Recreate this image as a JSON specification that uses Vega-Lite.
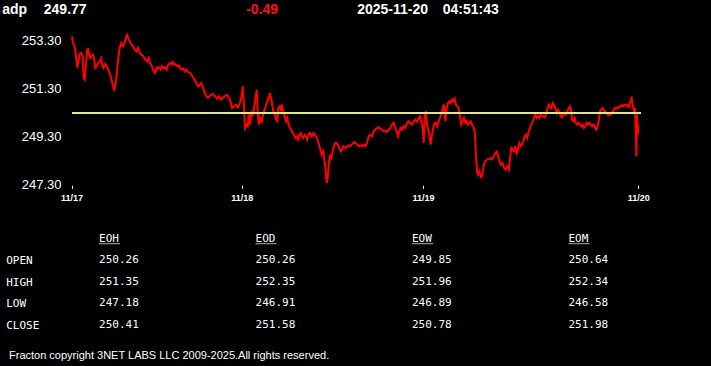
{
  "$schema": "https://vega.github.io/schema/vega-lite/v6.json",
  "background": "black",
  "padding": 0,
  "spacing": 16,
  "bounds": "flush",
  "config": {"view": {"stroke": null}, "axis": {"grid": false}},
  "vconcat": [
    {
      "width": 711, "height": 19,
      "layer": [
        {"data": {"values": [{"t": "adp"}]}, "mark": {"type": "text", "align": "left", "baseline": "middle", "dx": -353.3, "font": "Liberation Sans", "fontWeight": "bold", "fontSize": 14, "color": "#ffffff"}, "encoding": {"text": {"field": "t"}}},
        {"data": {"values": [{"t": "249.77"}]}, "mark": {"type": "text", "align": "left", "baseline": "middle", "dx": -311.7, "font": "Liberation Sans", "fontWeight": "bold", "fontSize": 14, "color": "#ffffff"}, "encoding": {"text": {"field": "t"}}},
        {"data": {"values": [{"t": "-0.49"}]}, "mark": {"type": "text", "align": "left", "baseline": "middle", "dx": -109.3, "font": "Liberation Sans", "fontWeight": "bold", "fontSize": 14, "color": "#ff1010"}, "encoding": {"text": {"field": "t"}}},
        {"data": {"values": [{"t": "2025-11-20"}]}, "mark": {"type": "text", "align": "left", "baseline": "middle", "dx": 1.7, "font": "Liberation Sans", "fontWeight": "bold", "fontSize": 14, "color": "#ffffff"}, "encoding": {"text": {"field": "t"}}},
        {"data": {"values": [{"t": "04:51:43"}]}, "mark": {"type": "text", "align": "left", "baseline": "middle", "dx": 87.3, "font": "Liberation Sans", "fontWeight": "bold", "fontSize": 14, "color": "#ffffff"}, "encoding": {"text": {"field": "t"}}}
      ]
    },
    {
      "width": 711, "height": 149.3,
      "data": {"values": [
        {"i":0.5,"p":253.45},{"i":1.5,"p":253.18},{"i":3.2,"p":253.04},{"i":4.8,"p":252.55},{"i":5.8,"p":252.14},{"i":7.2,"p":252.48},{"i":8.2,"p":252.72},{"i":9.8,"p":252.76},{"i":11.2,"p":252.62},{"i":12.2,"p":251.72},{"i":13.2,"p":251.65},{"i":14.2,"p":252.14},{"i":15.5,"p":252.83},{"i":16.5,"p":252.97},{"i":17.5,"p":252.69},{"i":18.8,"p":252.55},{"i":19.8,"p":252.62},{"i":21.5,"p":252.69},{"i":22.5,"p":252.55},{"i":23.8,"p":252.14},{"i":25.2,"p":252.21},{"i":26.5,"p":252.34},{"i":28.2,"p":252.41},{"i":29.8,"p":252.55},{"i":30.8,"p":252.27},{"i":31.8,"p":252.14},{"i":33.8,"p":252.30},{"i":35.8,"p":252.16},{"i":37.2,"p":252.03},{"i":39.2,"p":251.79},{"i":40.8,"p":251.51},{"i":42.5,"p":251.24},{"i":43.8,"p":251.37},{"i":45.2,"p":251.86},{"i":46.5,"p":252.41},{"i":48.2,"p":252.97},{"i":49.8,"p":253.18},{"i":51.5,"p":253.04},{"i":53.2,"p":253.18},{"i":54.8,"p":253.45},{"i":55.8,"p":253.52},{"i":57.2,"p":253.31},{"i":58.5,"p":253.24},{"i":59.8,"p":253.11},{"i":61.5,"p":253.04},{"i":63.2,"p":252.90},{"i":64.8,"p":252.83},{"i":66.5,"p":252.97},{"i":68.2,"p":252.76},{"i":69.8,"p":252.69},{"i":71.8,"p":252.62},{"i":73.8,"p":252.48},{"i":75.8,"p":252.41},{"i":77.2,"p":252.55},{"i":78.5,"p":252.34},{"i":79.8,"p":252.27},{"i":81.5,"p":252.07},{"i":83.2,"p":251.93},{"i":84.2,"p":252.00},{"i":85.2,"p":252.16},{"i":86.5,"p":252.11},{"i":87.8,"p":252.16},{"i":89.2,"p":252.07},{"i":90.5,"p":252.21},{"i":92.5,"p":252.11},{"i":93.8,"p":252.16},{"i":95.2,"p":252.07},{"i":96.5,"p":252.25},{"i":98.2,"p":252.34},{"i":99.8,"p":252.30},{"i":101.2,"p":252.39},{"i":102.5,"p":252.27},{"i":103.8,"p":252.30},{"i":105.5,"p":252.21},{"i":107.2,"p":252.25},{"i":108.5,"p":252.14},{"i":109.8,"p":252.07},{"i":111.8,"p":252.11},{"i":113.2,"p":252.00},{"i":114.8,"p":252.07},{"i":116.5,"p":251.97},{"i":118.5,"p":251.93},{"i":119.8,"p":251.86},{"i":121.5,"p":251.75},{"i":123.2,"p":251.65},{"i":124.8,"p":251.51},{"i":126.5,"p":251.37},{"i":128.2,"p":251.44},{"i":129.8,"p":251.51},{"i":131.5,"p":251.33},{"i":133.2,"p":251.10},{"i":134.8,"p":250.96},{"i":136.5,"p":250.89},{"i":138.2,"p":250.96},{"i":139.8,"p":251.03},{"i":141.5,"p":251.05},
        {"i":143.5,"p":250.96},{"i":145.8,"p":250.86},{"i":147.8,"p":250.96},{"i":149.5,"p":250.82},{"i":151.2,"p":250.89},{"i":153.5,"p":250.96},{"i":155.2,"p":251.03},{"i":156.8,"p":250.96},{"i":158.5,"p":250.82},{"i":160.5,"p":250.47},{"i":162.5,"p":250.54},{"i":164.5,"p":250.61},{"i":166.5,"p":250.50},{"i":168.5,"p":250.68},{"i":170.2,"p":251.03},{"i":171.2,"p":251.37},{"i":172.5,"p":250.61},{"i":173.5,"p":249.64},{"i":175.2,"p":249.78},{"i":176.2,"p":249.71},{"i":177.2,"p":250.20},{"i":178.5,"p":249.78},{"i":179.8,"p":250.33},{"i":181.2,"p":250.13},{"i":182.5,"p":250.47},{"i":183.8,"p":250.82},{"i":185.2,"p":251.24},{"i":186.2,"p":250.33},{"i":187.2,"p":249.78},{"i":188.5,"p":250.06},{"i":190.2,"p":249.85},{"i":191.2,"p":250.13},{"i":192.5,"p":250.33},{"i":193.8,"p":250.47},{"i":195.2,"p":250.68},{"i":197.2,"p":250.89},{"i":198.5,"p":251.10},{"i":200.2,"p":250.75},{"i":201.8,"p":250.33},{"i":203.2,"p":250.27},{"i":204.5,"p":249.99},{"i":205.8,"p":249.92},{"i":206.8,"p":250.47},{"i":208.5,"p":250.54},{"i":209.5,"p":250.33},{"i":210.5,"p":250.61},{"i":211.8,"p":250.33},{"i":213.2,"p":250.13},{"i":214.5,"p":249.92},{"i":215.8,"p":250.06},{"i":217.2,"p":249.78},{"i":218.5,"p":249.64},{"i":219.8,"p":249.57},{"i":221.2,"p":249.43},{"i":222.5,"p":249.36},{"i":223.8,"p":249.23},{"i":225.2,"p":249.29},{"i":226.5,"p":249.16},{"i":227.8,"p":249.36},{"i":229.2,"p":249.43},{"i":230.5,"p":249.29},{"i":231.8,"p":249.23},{"i":233.2,"p":249.36},{"i":234.5,"p":249.29},{"i":235.8,"p":249.16},{"i":237.2,"p":249.39},{"i":238.5,"p":249.43},{"i":240.2,"p":249.29},{"i":241.8,"p":249.43},{"i":243.5,"p":249.36},{"i":245.2,"p":249.23},{"i":246.5,"p":249.09},{"i":248.5,"p":248.81},{"i":250.2,"p":248.53},{"i":251.8,"p":248.67},{"i":253.5,"p":248.12},{"i":254.5,"p":247.70},{"i":255.2,"p":247.35},{"i":256.2,"p":247.56},{"i":257.2,"p":248.12},{"i":258.5,"p":248.53},{"i":259.8,"p":248.39},{"i":261.2,"p":248.67},{"i":262.5,"p":248.88},{"i":263.8,"p":249.02},{"i":265.2,"p":249.02},{"i":266.5,"p":248.95},{"i":267.8,"p":248.81},{"i":269.2,"p":248.67},{"i":270.5,"p":248.74},{"i":271.8,"p":248.88},{"i":273.5,"p":248.81},{"i":275.2,"p":248.84},{"i":276.8,"p":248.92},{"i":278.5,"p":248.88},{"i":280.2,"p":248.95},{"i":281.8,"p":249.02},{"i":283.5,"p":249.05},
        {"i":285.5,"p":248.95},{"i":287.2,"p":248.88},{"i":288.8,"p":248.92},{"i":290.5,"p":248.88},{"i":292.2,"p":248.95},{"i":293.8,"p":248.88},{"i":295.5,"p":249.02},{"i":297.2,"p":249.29},{"i":298.8,"p":249.36},{"i":300.5,"p":249.29},{"i":302.2,"p":249.50},{"i":303.8,"p":249.57},{"i":305.5,"p":249.64},{"i":307.2,"p":249.67},{"i":308.8,"p":249.60},{"i":310.5,"p":249.57},{"i":312.2,"p":249.50},{"i":313.8,"p":249.53},{"i":315.5,"p":249.48},{"i":317.2,"p":249.57},{"i":318.8,"p":249.64},{"i":320.5,"p":249.78},{"i":322.2,"p":249.85},{"i":323.8,"p":249.64},{"i":325.5,"p":249.43},{"i":326.5,"p":249.29},{"i":327.8,"p":249.50},{"i":329.2,"p":249.64},{"i":330.5,"p":249.57},{"i":332.2,"p":249.71},{"i":333.8,"p":249.64},{"i":335.5,"p":249.85},{"i":337.2,"p":249.92},{"i":338.8,"p":249.85},{"i":340.5,"p":249.78},{"i":342.2,"p":249.92},{"i":343.8,"p":249.99},{"i":345.5,"p":249.89},{"i":347.2,"p":250.06},{"i":348.8,"p":250.13},{"i":349.8,"p":249.92},{"i":351.2,"p":249.64},{"i":352.2,"p":249.02},{"i":353.2,"p":250.20},{"i":354.5,"p":250.33},{"i":355.5,"p":249.78},{"i":356.5,"p":249.64},{"i":357.8,"p":249.36},{"i":359.2,"p":248.95},{"i":360.5,"p":249.36},{"i":361.8,"p":249.64},{"i":363.2,"p":249.85},{"i":364.5,"p":249.85},{"i":365.8,"p":249.71},{"i":367.2,"p":249.92},{"i":368.5,"p":250.06},{"i":369.8,"p":250.20},{"i":371.2,"p":250.47},{"i":372.5,"p":250.61},{"i":373.8,"p":249.92},{"i":375.2,"p":250.47},{"i":376.5,"p":250.68},{"i":377.8,"p":250.75},{"i":379.2,"p":250.68},{"i":380.5,"p":250.82},{"i":381.8,"p":250.75},{"i":383.2,"p":250.86},{"i":384.5,"p":250.61},{"i":385.8,"p":250.54},{"i":387.2,"p":250.47},{"i":388.5,"p":250.13},{"i":389.8,"p":249.78},{"i":391.2,"p":249.92},{"i":392.5,"p":250.06},{"i":393.8,"p":249.85},{"i":395.2,"p":249.92},{"i":396.5,"p":249.78},{"i":397.8,"p":249.85},{"i":399.2,"p":249.92},{"i":400.5,"p":249.78},{"i":401.8,"p":249.71},{"i":403.2,"p":249.50},{"i":404.5,"p":248.53},{"i":405.5,"p":247.84},{"i":406.5,"p":247.70},{"i":407.8,"p":247.84},{"i":408.8,"p":247.70},{"i":409.8,"p":247.56},{"i":411.2,"p":247.84},{"i":412.5,"p":248.12},{"i":413.8,"p":248.26},{"i":415.5,"p":248.33},{"i":417.2,"p":248.35},{"i":418.8,"p":248.39},{"i":420.5,"p":248.33},{"i":422.2,"p":248.46},{"i":423.8,"p":248.60},{"i":425.5,"p":248.67},
        {"i":427.5,"p":248.32},{"i":429.2,"p":248.12},{"i":430.8,"p":248.19},{"i":432.5,"p":247.98},{"i":434.2,"p":247.91},{"i":435.8,"p":248.05},{"i":437.5,"p":247.91},{"i":438.5,"p":248.39},{"i":439.8,"p":248.81},{"i":441.2,"p":248.74},{"i":442.5,"p":248.67},{"i":443.8,"p":248.88},{"i":445.2,"p":248.60},{"i":446.5,"p":248.74},{"i":447.8,"p":249.02},{"i":449.2,"p":248.88},{"i":450.5,"p":248.95},{"i":451.8,"p":249.09},{"i":453.2,"p":249.29},{"i":454.5,"p":249.36},{"i":455.8,"p":249.23},{"i":457.2,"p":249.50},{"i":458.5,"p":249.64},{"i":459.8,"p":249.78},{"i":461.2,"p":249.92},{"i":462.5,"p":250.06},{"i":463.8,"p":250.20},{"i":465.2,"p":250.06},{"i":466.5,"p":250.13},{"i":467.8,"p":250.06},{"i":469.2,"p":250.20},{"i":470.5,"p":250.13},{"i":471.8,"p":250.13},{"i":473.2,"p":250.08},{"i":474.5,"p":250.20},{"i":475.8,"p":250.40},{"i":477.2,"p":250.61},{"i":478.5,"p":250.54},{"i":479.8,"p":250.47},{"i":481.2,"p":250.68},{"i":482.5,"p":250.61},{"i":483.8,"p":250.47},{"i":485.2,"p":250.27},{"i":486.5,"p":250.40},{"i":487.8,"p":250.33},{"i":489.2,"p":250.13},{"i":490.5,"p":250.08},{"i":491.8,"p":250.20},{"i":493.2,"p":250.27},{"i":494.5,"p":250.20},{"i":495.8,"p":250.33},{"i":497.2,"p":250.47},{"i":498.5,"p":250.54},{"i":499.8,"p":250.33},{"i":500.5,"p":249.99},{"i":501.8,"p":249.92},{"i":503.2,"p":250.06},{"i":504.5,"p":249.85},{"i":505.8,"p":249.78},{"i":507.2,"p":249.85},{"i":508.5,"p":249.78},{"i":509.8,"p":249.71},{"i":511.2,"p":249.78},{"i":512.5,"p":249.64},{"i":513.8,"p":249.71},{"i":515.2,"p":249.85},{"i":516.5,"p":249.78},{"i":517.8,"p":249.85},{"i":519.2,"p":249.78},{"i":520.5,"p":249.71},{"i":521.8,"p":249.78},{"i":523.2,"p":249.71},{"i":524.5,"p":249.57},{"i":525.8,"p":249.64},{"i":527.2,"p":249.92},{"i":528.5,"p":250.33},{"i":529.8,"p":250.40},{"i":531.2,"p":250.47},{"i":532.5,"p":250.36},{"i":533.8,"p":250.33},{"i":535.2,"p":250.27},{"i":536.5,"p":250.17},{"i":537.8,"p":250.17},{"i":539.2,"p":250.20},{"i":540.5,"p":250.27},{"i":541.8,"p":250.36},{"i":543.2,"p":250.47},{"i":544.5,"p":250.44},{"i":545.8,"p":250.50},{"i":547.2,"p":250.47},{"i":548.5,"p":250.54},{"i":549.8,"p":250.58},{"i":551.2,"p":250.54},{"i":552.5,"p":250.61},{"i":553.8,"p":250.61},{"i":555.2,"p":250.54},{"i":556.5,"p":250.61},{"i":557.8,"p":250.54},{"i":559.2,"p":250.82},{"i":560.2,"p":250.89},{"i":561.2,"p":250.61},{"i":562.2,"p":250.40},{"i":562.8,"p":250.33},{"i":563.5,"p":250.47},{"i":564.2,"p":249.64},{"i":564.5,"p":249.22},{"i":564.8,"p":248.46},{"i":565.2,"p":249.22},{"i":565.5,"p":250.20},{"i":566.2,"p":249.36},{"i":566.8,"p":249.77}
      ]},
      "layer": [
        {
          "mark": {"type": "line", "color": "#ff0000", "strokeWidth": 2},
          "encoding": {
            "x": {"field": "i", "type": "quantitative",
                  "scale": {"domain": [-71.5, 639.5], "nice": false, "zero": false},
                  "axis": {"values": [0, 170.2, 351.5, 566.8], "title": null, "domain": false, "ticks": true, "tickColor": "#ffffff", "tickSize": 3, "tickWidth": 1, "offset": 1, "labelPadding": 5, "labelColor": "#ffffff", "labelFont": "Liberation Sans", "labelFontSize": 9, "labelFontWeight": "bold",
                           "labelExpr": "datum.value < 100 ? '11/17' : datum.value < 300 ? '11/18' : datum.value < 500 ? '11/19' : '11/20'"}},
            "y": {"field": "p", "type": "quantitative",
                  "scale": {"domain": [247.3, 253.508], "nice": false, "zero": false},
                  "axis": {"values": [247.3, 249.3, 251.3, 253.3], "format": ".2f", "title": null, "domain": false, "ticks": false, "tickSize": 0, "offset": -61, "labelPadding": 0, "labelColor": "#ffffff", "labelFont": "Liberation Sans", "labelFontSize": 13}}
          }
        },
        {
          "mark": {"type": "rule", "color": "#e2e68a", "strokeWidth": 2},
          "encoding": {
            "y": {"datum": 250.26, "type": "quantitative"},
            "x": {"datum": 0.5, "type": "quantitative"},
            "x2": {"datum": 569}
          }
        }
      ]
    },
    {
      "width": 711, "height": 127.7,
      "layer": [
        {
          "data": {"values": [{"row": "OPEN"}, {"row": "HIGH"}, {"row": "LOW"}, {"row": "CLOSE"}]},
          "mark": {"type": "text", "align": "left", "baseline": "middle", "dx": -349.3, "dy": 1, "font": "DejaVu Sans Mono", "fontSize": 11, "color": "#ffffff"},
          "encoding": {
            "y": {"field": "row", "type": "nominal", "scale": {"type": "point", "domain": ["head", "OPEN", "HIGH", "LOW", "CLOSE"], "padding": 0.97, "align": 0.904}, "axis": null},
            "text": {"field": "row"}
          }
        },
        {
          "data": {"values": [
            {"row": "head", "col": "EOH", "v": "EOH"}, {"row": "head", "col": "EOD", "v": "EOD"}, {"row": "head", "col": "EOW", "v": "EOW"}, {"row": "head", "col": "EOM", "v": "EOM"},
            {"row": "OPEN", "col": "EOH", "v": "250.26"}, {"row": "OPEN", "col": "EOD", "v": "250.26"}, {"row": "OPEN", "col": "EOW", "v": "249.85"}, {"row": "OPEN", "col": "EOM", "v": "250.64"},
            {"row": "HIGH", "col": "EOH", "v": "251.35"}, {"row": "HIGH", "col": "EOD", "v": "252.35"}, {"row": "HIGH", "col": "EOW", "v": "251.96"}, {"row": "HIGH", "col": "EOM", "v": "252.34"},
            {"row": "LOW", "col": "EOH", "v": "247.18"}, {"row": "LOW", "col": "EOD", "v": "246.91"}, {"row": "LOW", "col": "EOW", "v": "246.89"}, {"row": "LOW", "col": "EOM", "v": "246.58"},
            {"row": "CLOSE", "col": "EOH", "v": "250.41"}, {"row": "CLOSE", "col": "EOD", "v": "251.58"}, {"row": "CLOSE", "col": "EOW", "v": "250.78"}, {"row": "CLOSE", "col": "EOM", "v": "251.98"}
          ]},
          "mark": {"type": "text", "align": "left", "baseline": "middle", "font": "DejaVu Sans Mono", "fontSize": 11, "color": "#ffffff"},
          "encoding": {
            "x": {"field": "col", "type": "nominal", "scale": {"type": "point", "domain": ["EOH", "EOD", "EOW", "EOM"], "padding": 0.772, "align": 0.41}, "axis": null},
            "y": {"field": "row", "type": "nominal", "axis": null},
            "text": {"field": "v"}
          }
        },
        {
          "data": {"values": [{"row": "head", "col": "EOH"}, {"row": "head", "col": "EOD"}, {"row": "head", "col": "EOW"}, {"row": "head", "col": "EOM"}]},
          "mark": {"type": "tick", "orient": "horizontal", "size": 21, "thickness": 1, "xOffset": 10.5, "yOffset": 5, "color": "#ffffff"},
          "encoding": {
            "x": {"field": "col", "type": "nominal"},
            "y": {"field": "row", "type": "nominal"}
          }
        }
      ]
    },
    {
      "width": 711, "height": 22,
      "data": {"values": [{"t": "Fracton copyright 3NET LABS LLC 2009-2025.All rights reserved."}]},
      "mark": {"type": "text", "align": "left", "baseline": "middle", "dx": -346.5, "font": "Liberation Sans", "fontSize": 11, "color": "#ffffff"},
      "encoding": {"text": {"field": "t"}}
    }
  ]
}
